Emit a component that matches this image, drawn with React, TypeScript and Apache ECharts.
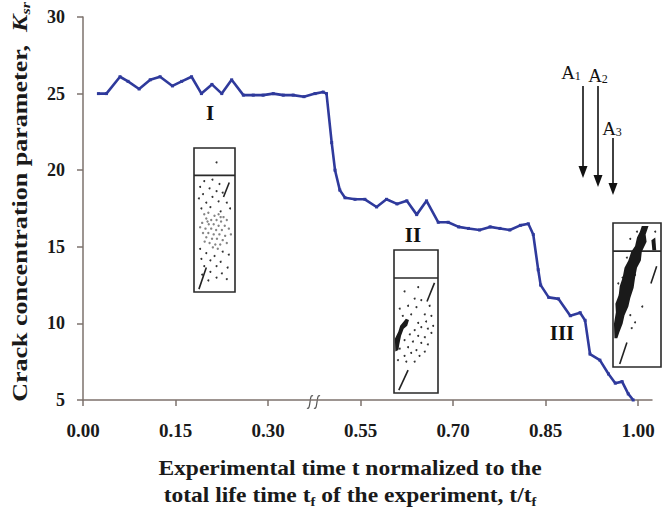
import React, { useEffect, useRef } from 'react';
import * as echarts from 'echarts';

// ---- data ----
const tickT = [0, 0.15, 0.3, 0.55, 0.7, 0.85, 1.0];
const tickLabels = ['0.00', '0.15', '0.30', '0.55', '0.70', '0.85', '1.00'];
const yTickValues = [5, 10, 15, 20, 25, 30];

const tValues = [
  0.025, 0.038, 0.06, 0.073, 0.091, 0.109, 0.125, 0.145, 0.16, 0.176,
  0.192, 0.209, 0.225, 0.241, 0.26, 0.276, 0.292, 0.314, 0.341, 0.368,
  0.397, 0.427, 0.449, 0.458, 0.472, 0.481, 0.494, 0.508, 0.535, 0.557,
  0.576, 0.592, 0.609, 0.625, 0.641, 0.657, 0.676, 0.692, 0.709, 0.725,
  0.743, 0.76, 0.776, 0.792, 0.809, 0.822, 0.83, 0.838, 0.842, 0.855,
  0.871, 0.89, 0.906, 0.914, 0.922, 0.938, 0.952, 0.963, 0.974, 0.984,
  0.992,
];
const kValues = [
  25.0, 25.0, 26.1, 25.8, 25.3, 25.9, 26.1, 25.5, 25.8, 26.1,
  25.0, 25.6, 25.0, 25.9, 24.9, 24.9, 24.9, 25.0, 24.9, 24.9,
  24.8, 25.0, 25.1, 25.0, 21.8, 20.0, 18.7, 18.2, 18.1, 18.1,
  17.6, 18.1, 17.8, 18.0, 17.1, 18.0, 16.6, 16.6, 16.3, 16.2,
  16.1, 16.3, 16.2, 16.1, 16.4, 16.5, 15.8, 13.5, 12.5, 11.7,
  11.6, 10.5, 10.7, 10.2, 8.0, 7.6, 6.7, 6.1, 6.2, 5.4,
  5.0,
];

const stageLabels = ['I', 'II', 'III'];
const arrowSubs = ['1', '2', '3'];

// inset decorations (relative coords inside each box)
const insetIDots = [
  [0.55, 0.1], [0.25, 0.23], [0.45, 0.22], [0.62, 0.25], [0.15, 0.27], [0.38, 0.28], [0.55, 0.3],
  [0.22, 0.32], [0.7, 0.31], [0.12, 0.35], [0.45, 0.34], [0.6, 0.37], [0.3, 0.38], [0.8, 0.38],
  [0.18, 0.42], [0.4, 0.41], [0.88, 0.42], [0.65, 0.44], [0.15, 0.7], [0.7, 0.72], [0.3, 0.73],
  [0.85, 0.74], [0.5, 0.75], [0.18, 0.77], [0.4, 0.78], [0.65, 0.79], [0.25, 0.82], [0.55, 0.82],
  [0.82, 0.83], [0.4, 0.86], [0.68, 0.87], [0.2, 0.88], [0.55, 0.9], [0.8, 0.91], [0.35, 0.92],
];
const insetIGrayDots = [
  [0.25, 0.46], [0.35, 0.45], [0.5, 0.47], [0.6, 0.46], [0.72, 0.48], [0.3, 0.49], [0.42, 0.5],
  [0.55, 0.5], [0.66, 0.51], [0.8, 0.5], [0.2, 0.52], [0.36, 0.53], [0.48, 0.53], [0.6, 0.54],
  [0.75, 0.54], [0.28, 0.56], [0.42, 0.56], [0.54, 0.57], [0.68, 0.57], [0.85, 0.56], [0.22, 0.59],
  [0.35, 0.59], [0.48, 0.6], [0.62, 0.6], [0.76, 0.61], [0.3, 0.62], [0.44, 0.63], [0.56, 0.63],
  [0.7, 0.64], [0.38, 0.66], [0.52, 0.67], [0.64, 0.67], [0.26, 0.65], [0.8, 0.66], [0.46, 0.69],
  [0.58, 0.7], [0.15, 0.55], [0.9, 0.6], [0.33, 0.51], [0.65, 0.48],
];
const insetISegs = [
  [0.86, 0.24, 0.72, 0.34],
  [0.3, 0.83, 0.12, 0.98],
];

const insetIIDots = [
  [0.24, 0.29], [0.55, 0.26], [0.47, 0.34], [0.62, 0.35], [0.13, 0.41], [0.32, 0.39], [0.51, 0.4],
  [0.81, 0.39], [0.2, 0.46], [0.39, 0.45], [0.7, 0.45], [0.85, 0.46], [0.55, 0.51], [0.73, 0.5],
  [0.89, 0.53], [0.47, 0.56], [0.62, 0.54], [0.77, 0.55], [0.36, 0.59], [0.55, 0.6], [0.7, 0.61],
  [0.85, 0.58], [0.24, 0.63], [0.43, 0.64], [0.62, 0.65], [0.77, 0.66], [0.13, 0.69], [0.32, 0.68],
  [0.51, 0.7], [0.7, 0.71], [0.24, 0.74], [0.39, 0.72], [0.58, 0.74], [0.09, 0.77], [0.28, 0.78],
  [0.47, 0.78],
];
const insetIIStreak = [
  [0.03, 0.71], [0.02, 0.62], [0.1, 0.57], [0.14, 0.53], [0.22, 0.5], [0.27, 0.48], [0.34, 0.49],
  [0.3, 0.53], [0.22, 0.55], [0.16, 0.6], [0.12, 0.66], [0.1, 0.7],
];
const insetIISegs = [
  [0.92, 0.23, 0.75, 0.36],
  [0.32, 0.84, 0.11, 0.98],
];

const insetIIIDots = [
  [0.36, 0.11], [0.11, 0.42], [0.14, 0.5], [0.11, 0.55], [0.61, 0.58], [0.36, 0.64], [0.46, 0.69],
  [0.39, 0.73], [0.29, 0.24], [0.5, 0.06], [0.88, 0.06], [0.2, 0.38], [0.46, 0.36], [0.52, 0.26],
  [0.1, 0.66], [0.3, 0.5], [0.66, 0.12],
];
const insetIIIBand = [
  [0.03, 0.8], [0.02, 0.7], [0.06, 0.62], [0.05, 0.56], [0.12, 0.5], [0.14, 0.44], [0.2, 0.38],
  [0.24, 0.31], [0.32, 0.26], [0.38, 0.2], [0.46, 0.16], [0.5, 0.1], [0.56, 0.06], [0.6, 0.02],
  [0.74, 0.02], [0.68, 0.08], [0.7, 0.13], [0.6, 0.2], [0.58, 0.26], [0.5, 0.31], [0.46, 0.38],
  [0.43, 0.45], [0.36, 0.52], [0.32, 0.58], [0.24, 0.64], [0.2, 0.7], [0.13, 0.76], [0.09, 0.8],
];
const insetIIIBlob = [
  [0.8, 0.12], [0.88, 0.1], [0.9, 0.19], [0.82, 0.19],
];
const insetIIISegs = [
  [0.91, 0.3, 0.79, 0.42],
  [0.29, 0.83, 0.14, 0.98],
];

// ---- helpers ----
function toAxis(t: number): number {
  for (let i = 0; i < tickT.length - 1; i++) {
    if (t <= tickT[i + 1]) {
      return i + (t - tickT[i]) / (tickT[i + 1] - tickT[i]);
    }
  }
  return tickT.length - 1;
}

const SERIF = '"Liberation Serif", "Times New Roman", serif';
const AXIS_COLOR = '#7d726c';
const LINE_COLOR = '#2f3a9c';

function buildInset(
  x: number, y: number, w: number, h: number, div: number,
  dots: number[][], grayDots: number[][], segs: number[][], polys: number[][][]
) {
  const children: any[] = [];
  children.push({ type: 'rect', shape: { x: 0, y: 0, width: w, height: h }, style: { fill: '#fff', stroke: '#2a2a2a', lineWidth: 1.6 } });
  children.push({ type: 'line', shape: { x1: 0, y1: div * h, x2: w, y2: div * h }, style: { stroke: '#2a2a2a', lineWidth: 1.6 } });
  grayDots.forEach(([u, v]) => children.push({ type: 'circle', shape: { cx: u * w, cy: v * h, r: 1.2 }, style: { fill: '#858585' } }));
  dots.forEach(([u, v]) => children.push({ type: 'circle', shape: { cx: u * w, cy: v * h, r: 1 }, style: { fill: '#333' } }));
  polys.forEach((p) => children.push({ type: 'polygon', shape: { points: p.map(([u, v]) => [u * w, v * h]) }, style: { fill: '#1a1a1a' } }));
  segs.forEach(([u1, v1, u2, v2]) => children.push({ type: 'line', shape: { x1: u1 * w, y1: v1 * h, x2: u2 * w, y2: v2 * h }, style: { stroke: '#222', lineWidth: 1.6 } }));
  return { type: 'group', x, y, children };
}

export default function App() {
  const ref = useRef<HTMLDivElement>(null);
  useEffect(() => {
    if (!ref.current) return;
    const chart = echarts.init(ref.current, undefined, { renderer: 'svg' });

    const data = tValues.map((t, i) => [toAxis(t), kValues[i]]);
    const tickIdx = tickLabels.map((_, i) => i);

    const arrows = [
      { x: 583, y1: 86, y2: 178, lx: 571, ly: 72 },
      { x: 598, y1: 86, y2: 187, lx: 598, ly: 75 },
      { x: 613, y1: 138, y2: 195, lx: 612, ly: 128 },
    ];
    const arrowEls: any[] = [];
    arrows.forEach((a, i) => {
      arrowEls.push({ type: 'line', shape: { x1: a.x, y1: a.y1, x2: a.x, y2: a.y2 - 8 }, style: { stroke: '#111', lineWidth: 1.6 } });
      arrowEls.push({ type: 'polygon', shape: { points: [[a.x - 4.5, a.y2 - 12], [a.x + 4.5, a.y2 - 12], [a.x, a.y2]] }, style: { fill: '#111' } });
      arrowEls.push({
        type: 'text', x: a.lx, y: a.ly,
        style: {
          text: `{a|A}{s|${arrowSubs[i]}}`, align: 'center', verticalAlign: 'middle',
          rich: {
            a: { fontFamily: SERIF, fontSize: 19, fill: '#111', lineHeight: 20, verticalAlign: 'middle' },
            s: { fontFamily: SERIF, fontSize: 12, fill: '#111', lineHeight: 20, verticalAlign: 'bottom', padding: [8, 0, 0, 0] },
          },
        },
      });
    });

    const stagePos = [[210, 113], [413, 235], [562, 333]];
    const stageEls = stageLabels.map((s, i) => ({
      type: 'text', x: stagePos[i][0], y: stagePos[i][1],
      style: { text: s, fontFamily: SERIF, fontWeight: 'bold', fontSize: 21, fill: '#111', align: 'center', verticalAlign: 'middle' },
    }));

    const breakEls = [310, 317].map((cx) => ({
      type: 'bezierCurve',
      shape: { x1: cx - 3, y1: 408, cpx1: cx + 1, cpy1: 411, cpx2: cx - 1, cpy2: 393, x2: cx + 3, y2: 396 },
      style: { stroke: '#555', lineWidth: 1.2, fill: 'none' },
    }));

    chart.setOption({
      animation: false,
      backgroundColor: '#fff',
      grid: { left: 83, right: 13, top: 17, bottom: 108, containLabel: false },
      xAxis: {
        type: 'value', min: 0, max: 6.15, interval: 1,
        axisLine: { lineStyle: { color: AXIS_COLOR, width: 1.5 } },
        axisTick: { show: true, length: 6, customValues: tickIdx, lineStyle: { color: AXIS_COLOR, width: 1.5 } },
        axisLabel: {
          customValues: tickIdx,
          formatter: (v: number) => (Math.abs(v - Math.round(v)) < 1e-6 && tickLabels[Math.round(v)]) || '',
          fontFamily: SERIF, fontWeight: 'bold', fontSize: 19, color: '#1a1a1a', margin: 21,
        },
        splitLine: { show: false },
      },
      yAxis: {
        type: 'value', min: yTickValues[0], max: yTickValues[yTickValues.length - 1], interval: 5,
        axisLine: { show: true, lineStyle: { color: AXIS_COLOR, width: 1.5 } },
        axisTick: { show: true, length: 6, lineStyle: { color: AXIS_COLOR, width: 1.5 } },
        axisLabel: { fontFamily: SERIF, fontWeight: 'bold', fontSize: 18, color: '#1a1a1a', margin: 18 },
        splitLine: { show: false },
      },
      series: [
        {
          type: 'line', data, symbol: 'rect', symbolSize: 3, showSymbol: true,
          lineStyle: { color: LINE_COLOR, width: 2.6 }, itemStyle: { color: LINE_COLOR },
          z: 3,
        },
      ],
      graphic: [
        {
          type: 'text', x: 20, y: 202, rotation: Math.PI / 2, scaleX: 1.24,
          style: {
            text: '{m|Crack concentration parameter,  }{k|K}{s|sr}', align: 'center', verticalAlign: 'middle',
            rich: {
              m: { fontFamily: SERIF, fontWeight: 'bold', fontSize: 21, fill: '#1a1a1a', lineHeight: 24 },
              k: { fontFamily: SERIF, fontWeight: 'bold', fontStyle: 'italic', fontSize: 21, fill: '#1a1a1a', lineHeight: 24 },
              s: { fontFamily: SERIF, fontWeight: 'bold', fontStyle: 'italic', fontSize: 13, fill: '#1a1a1a', lineHeight: 24, verticalAlign: 'bottom', padding: [8, 0, 0, 0] },
            },
          },
        },
        {
          type: 'text', x: 350, y: 481, scaleX: 1.12,
          style: {
            text: '{m|Experimental time t normalized to the}\n{m|total life time t}{s|f}{m| of the experiment, t/t}{s|f}',
            align: 'center', verticalAlign: 'middle',
            rich: {
              m: { fontFamily: SERIF, fontWeight: 'bold', fontSize: 21, fill: '#1a1a1a', lineHeight: 27 },
              s: { fontFamily: SERIF, fontWeight: 'bold', fontSize: 13, fill: '#1a1a1a', lineHeight: 27, verticalAlign: 'bottom', padding: [8, 0, 0, 0] },
            },
          },
        },
        ...stageEls,
        ...arrowEls,
        ...breakEls,
        buildInset(194, 148, 41, 144, 0.19, insetIDots, insetIGrayDots, insetISegs, []),
        buildInset(394, 250, 44, 143, 0.196, insetIIDots, [], insetIISegs, [insetIIStreak]),
        buildInset(613, 223, 48, 144, 0.195, insetIIIDots, [], insetIIISegs, [insetIIIBand, insetIIIBlob]),
      ],
    });
    return () => chart.dispose();
  }, []);
  return <div ref={ref} style={{ position: 'fixed', left: 0, top: 0, width: 665, height: 508 }} />;
}
